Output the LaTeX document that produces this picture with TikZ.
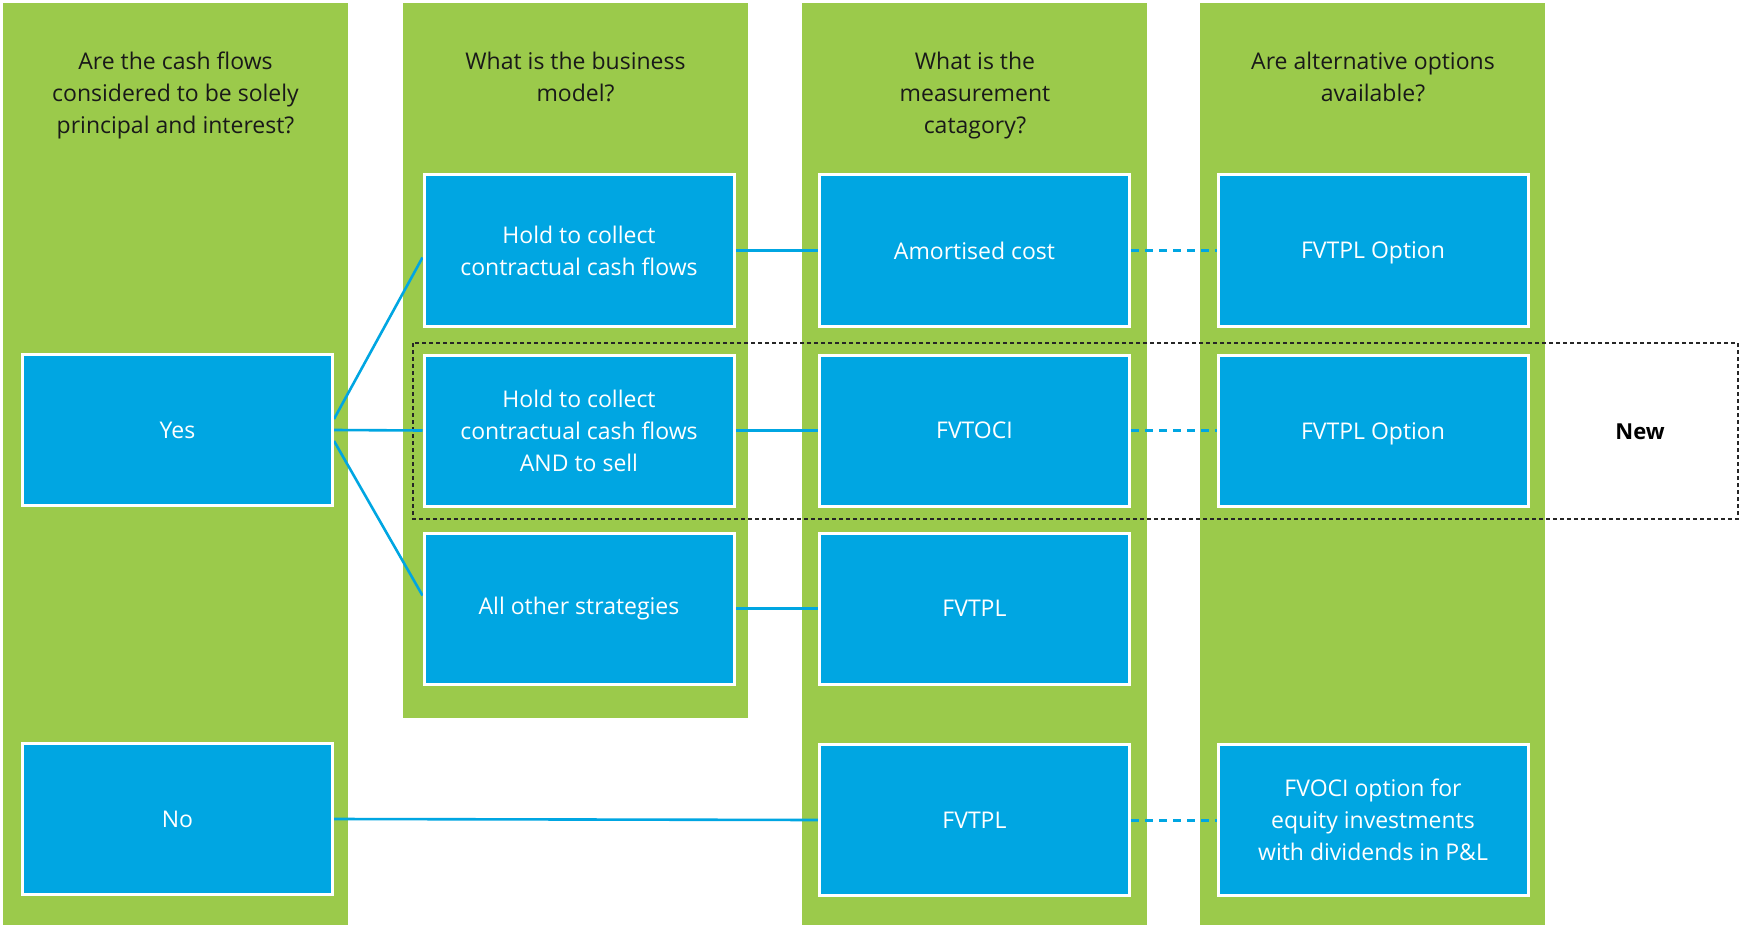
\documentclass[tikz,border=0pt]{standalone}
\usepackage{fontspec}
\setmainfont{Open Sans}
\usetikzlibrary{calc}
\definecolor{grn}{HTML}{9BCA4B}
\definecolor{blu}{HTML}{00A6E2}
\pgfdeclarelayer{back}
\pgfsetlayers{back,main}
\begin{document}
\begin{tikzpicture}[x=1pt,y=-1pt,
  box/.style={fill=blu, draw=white, line width=3pt, text=white,
    font=\fontsize{23}{32}\selectfont, align=center, inner sep=0pt,
    minimum width=310pt, minimum height=151pt},
  hdr/.style={font=\fontsize{23}{32}\selectfont, text=black!90, align=center,
    anchor=north, inner sep=0pt},
  link/.style={draw=blu, line width=2.6pt},
  opt/.style={draw=blu, line width=3pt, dash pattern=on 8pt off 6pt}]
\useasboundingbox (0,0) rectangle (1740,928);
\begin{pgfonlayer}{back}
  \fill[white] (0,0) rectangle (1740,928);
  \fill[grn] (3,3) rectangle (348,925);
  \fill[grn] (403,3) rectangle (748,718);
  \fill[grn] (802,3) rectangle (1147,925);
  \fill[grn] (1200,3) rectangle (1545,925);
  \draw[black!85, line width=1.2pt, dash pattern=on 4pt off 3pt] (413,343) rectangle (1738,519);
\end{pgfonlayer}
% headers
\node[hdr] (h1) at (175.5,52) {Are the cash flows\\considered to be solely\\principal and interest?};
\node[hdr] (h2) at (575.5,52) {What is the business\\model?};
\node[hdr] (h3) at (975,52) {What is the\\measurement\\catagory?};
\node[hdr] (h4) at (1373,52) {Are alternative options\\available?};
% column 1
\node[box] (yes) at (177.5,430) {Yes};
\node[box] (no) at (177.5,819) {No};
% column 2
\node[box] (b1) at (579,250.5) {Hold to collect\\contractual cash flows};
\node[box] (b2) at (579,430.5) {Hold to collect\\contractual cash flows\\AND to sell};
\node[box] (b3) at (579,608.5) {All other strategies};
% column 3
\node[box] (c1) at (974.5,250.5) {Amortised cost};
\node[box] (c2) at (974.5,430.5) {FVTOCI};
\node[box] (c3) at (974.5,608.5) {FVTPL};
\node[box] (c4) at (974.5,820) {FVTPL};
% column 4
\node[box] (d1) at (1373,250.5) {\raisebox{-8.5pt}[0pt][0pt]{FVTPL Option}};
\node[box] (d2) at (1373,430.5) {\raisebox{-8.5pt}[0pt][0pt]{FVTPL Option}};
\node[box] (d4) at (1373,820) {FVOCI option for\\equity investments\\with dividends in P\&L};
% new label
\node[font=\fontsize{22}{26}\selectfont\bfseries, text=black] (new) at (1640,432) {New};
% connectors
\begin{pgfonlayer}{back}
  \draw[link] ($(yes.east)+(0,-11)$) -- ($(b1.west)+(0,7)$);
  \draw[link] (yes.east) -- (b2.west);
  \draw[link] ($(yes.east)+(0,11)$) -- ($(b3.west)+(0,-13)$);
  \draw[link] (b1.east) -- (c1.west);
  \draw[link] (b2.east) -- (c2.west);
  \draw[link] (b3.east) -- (c3.west);
  \draw[link] (no.east) -- (c4.west);
  \draw[opt] (c1.east) -- (d1.west);
  \draw[opt] (c2.east) -- (d2.west);
  \draw[opt] (c4.east) -- (d4.west);
\end{pgfonlayer}
\end{tikzpicture}
\end{document}
